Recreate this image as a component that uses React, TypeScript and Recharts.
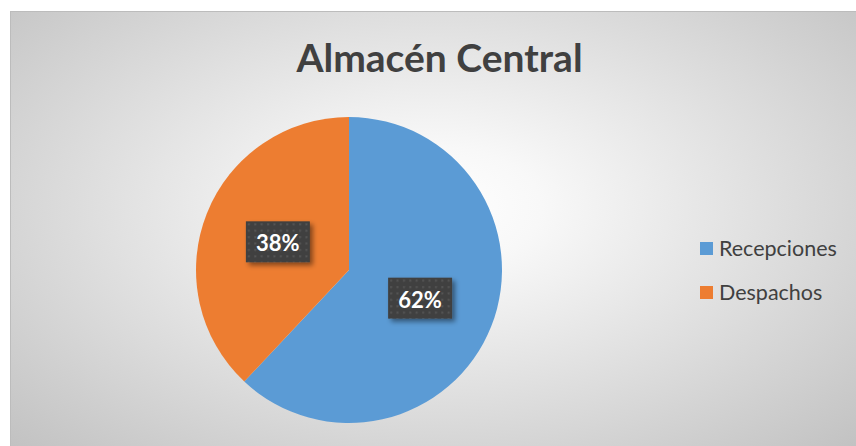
import { PieChart, Pie, Cell, Legend } from "recharts";

const categories = ["Recepciones", "Despachos"];
const values = [62, 38];
const colors = ["#5B9BD5", "#ED7D31"];

const data = categories.map((name, i) => ({ name, value: values[i] }));

const RAD = Math.PI / 180;

function PctLabel(props: any) {
  const { cx, cy, midAngle, outerRadius, percent, index } = props;
  const r = outerRadius * 0.5;
  const x = cx + r * Math.cos(-midAngle * RAD);
  const y = cy + r * Math.sin(-midAngle * RAD);
  const w = 64;
  const h = 41;
  const pid = "dots" + index;
  const fid = "shadow" + index;
  return (
    <g>
      <defs>
        <pattern id={pid} x={x - w / 2} y={y - h / 2} width={6.4} height={6.4} patternUnits="userSpaceOnUse">
          <rect width={6.4} height={6.4} fill="#404040" />
          <rect x={2} y={2} width={2} height={2} fill="#555555" />
        </pattern>
        <filter id={fid} x="-20%" y="-20%" width="150%" height="160%">
          <feDropShadow dx={3} dy={3} stdDeviation={2.5} floodColor="#000" floodOpacity={0.45} />
        </filter>
      </defs>
      <rect x={x - w / 2} y={y - h / 2} width={w} height={h} fill={`url(#${pid})`} filter={`url(#${fid})`} />
      <text
        x={x}
        y={y + 1}
        textAnchor="middle"
        dominantBaseline="central"
        fill="#ffffff"
        fontFamily="Lato, sans-serif"
        fontWeight={700}
        fontSize={22}
      >
        {`${Math.round(percent * 100)}%`}
      </text>
    </g>
  );
}

function LegendBox() {
  return (
    <div style={{ fontFamily: "Lato, sans-serif", fontSize: 21.5, color: "#404040" }}>
      {categories.map((c, i) => (
        <div key={c} style={{ display: "flex", alignItems: "center", height: 44 }}>
          <span style={{ display: "inline-block", width: 13, height: 13, background: colors[i], marginRight: 6 }} />
          <span>{c}</span>
        </div>
      ))}
    </div>
  );
}

export default function App() {
  return (
    <div style={{ position: "absolute", left: 0, top: 0, width: 856, height: 446, background: "#ffffff", overflow: "hidden" }}>
      <div
        style={{
          position: "absolute",
          left: 10,
          top: 11,
          width: 846,
          height: 435,
          borderTop: "1px solid #bcbcbc",
          borderLeft: "1px solid #bcbcbc",
          boxSizing: "border-box",
          background: "radial-gradient(ellipse farthest-corner at 50% 45%, #ffffff 0%, #f8f8f8 18%, #c2c2c2 100%)",
        }}
      >
        <div
          style={{
            position: "absolute",
            left: 0,
            width: 857,
            top: 22,
            textAlign: "center",
            fontFamily: "Lato, sans-serif",
            fontWeight: 700,
            fontSize: 39,
            color: "#404040",
          }}
        >
          Almacén Central
        </div>
        <PieChart
          width={846}
          height={435}
          margin={{ top: 0, right: 0, bottom: 0, left: 0 }}
          style={{ position: "absolute", left: 0, top: 0 }}
        >
          <Pie
            data={data}
            dataKey="value"
            nameKey="name"
            cx={338}
            cy={258}
            outerRadius={153}
            startAngle={90}
            endAngle={-270}
            stroke="none"
            label={PctLabel}
            labelLine={false}
            isAnimationActive={false}
          >
            {data.map((d, i) => (
              <Cell key={d.name} fill={colors[i]} />
            ))}
          </Pie>
          <Legend
            layout="vertical"
            align="right"
            verticalAlign="top"
            content={() => <LegendBox />}
            wrapperStyle={{ left: 689, top: 214, width: 160 }}
          />
        </PieChart>
      </div>
    </div>
  );
}
